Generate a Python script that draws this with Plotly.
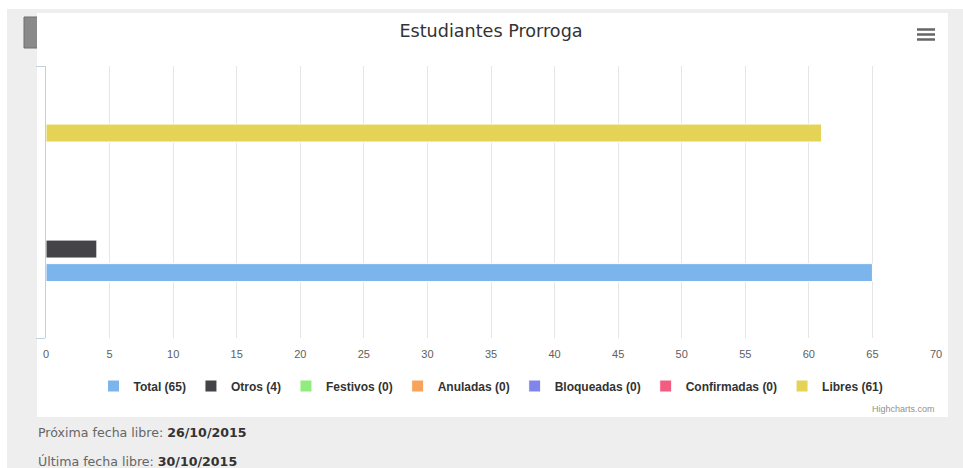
import plotly.graph_objects as go

# ---------------- data ----------------
categories = ["Ocupación", "Disponibles"]          # bottom group, top group
series_names = ["Total", "Otros", "Festivos", "Anuladas", "Bloqueadas", "Confirmadas", "Libres"]
series_values = [65, 4, 0, 0, 0, 0, 61]
series_category = [0, 0, 0, 0, 0, 0, 1]
x_ticks = [0, 5, 10, 15, 20, 25, 30, 35, 40, 45, 50, 55, 60, 65, 70]
title_text = "Estudiantes Prorroga"
proxima_label = "Próxima fecha libre:"
proxima_fecha = "26/10/2015"
ultima_label = "Última fecha libre:"
ultima_fecha = "30/10/2015"

# ---------------- style ----------------
W, H = 963, 468
L, R, T, B = 46, 936, 66, 338
colors = ["#7cb5ec", "#434348", "#90ed7d", "#f7a35c", "#8085e9", "#f15c80", "#e4d354"]
offsets = [-0.085, 0.088, 0.26, 0.26, 0.26, 0.26, -0.059]
bar_w = 0.132
FONT = "Liberation Sans, Arial, sans-serif"
FONT2 = "DejaVu Sans, Verdana, sans-serif"


def px(x):
    return (x - L) / (R - L)


def py(y):
    return (B - y) / (B - T)


fig = go.Figure()
for i, name in enumerate(series_names):
    fig.add_trace(go.Bar(
        x=[series_values[i]],
        y=[series_category[i]],
        orientation="h",
        name=f"{name} ({series_values[i]})",
        marker=dict(color=colors[i], line=dict(color="white", width=1)),
        width=bar_w,
        offset=offsets[i],
        hovertemplate=f"{name}: %{{x}}<extra></extra>",
    ))

shapes = [
    # page strips
    dict(type="rect", xref="paper", yref="paper", x0=px(0), x1=px(W), y0=py(0), y1=py(9),
         fillcolor="white", line=dict(width=0), layer="below"),
    dict(type="rect", xref="paper", yref="paper", x0=px(0), x1=px(7), y0=py(0), y1=py(H),
         fillcolor="white", line=dict(width=0), layer="below"),
    # grey button at left
    dict(type="rect", xref="paper", yref="paper", x0=px(24), x1=px(44), y0=py(17), y1=py(48),
         fillcolor="#8a8a8a", line=dict(color="#6e6e6e", width=1), layer="below"),
    # white card
    dict(type="rect", xref="paper", yref="paper", x0=px(37), x1=px(948), y0=py(13), y1=py(417),
         fillcolor="white", line=dict(width=0), layer="below"),
]
# hamburger menu icon
for yy in (29.5, 34.5, 39.5):
    shapes.append(dict(type="line", xref="paper", yref="paper", x0=px(917), x1=px(935),
                       y0=py(yy), y1=py(yy), line=dict(color="#666666", width=2.5)))

annotations = [
    dict(text="Highcharts.com", xref="paper", yref="paper", x=px(937), y=py(409),
         xanchor="right", yanchor="middle", showarrow=False,
         font=dict(family=FONT, size=9, color="#909090")),
    dict(text=f"{proxima_label} <b><span style='color:#333333'>{proxima_fecha}</span></b>",
         xref="paper", yref="paper", x=px(36), y=py(432), xanchor="left", yanchor="middle",
         showarrow=False, font=dict(family=FONT2, size=12.6, color="#666666")),
    dict(text=f"{ultima_label} <b><span style='color:#333333'>{ultima_fecha}</span></b>",
         xref="paper", yref="paper", x=px(36), y=py(461), xanchor="left", yanchor="middle",
         showarrow=False, font=dict(family=FONT2, size=12.6, color="#666666")),
]

fig.update_layout(
    width=W, height=H, autosize=False,
    margin=dict(l=L, r=W - R, t=T, b=H - B, pad=0),
    paper_bgcolor="#eeeeee",
    plot_bgcolor="rgba(0,0,0,0)",
    barmode="overlay",
    title=dict(text=title_text, x=0.5, xref="paper", xanchor="center",
               y=1 - 31 / H, yref="container", yanchor="middle",
               font=dict(family=FONT2, size=17.6, color="#333333")),
    font=dict(family=FONT),
    xaxis=dict(range=[0, 70], tickvals=x_ticks, showgrid=True, gridcolor="#e6e6e6", gridwidth=1,
               zeroline=False, showline=False, ticks="", ticklabelstandoff=8,
               tickfont=dict(family=FONT, size=11, color="#606060"), fixedrange=True),
    yaxis=dict(range=[-0.5, 1.5], tickvals=[-0.5, 1.5], showticklabels=False, showgrid=False,
               zeroline=False, showline=True, linecolor="#c0d0e0", linewidth=1,
               ticks="outside", ticklen=9, tickcolor="#c0d0e0", fixedrange=True),
    legend=dict(orientation="h", x=0.5, xanchor="center", y=py(386), yanchor="middle",
                font=dict(family=FONT, size=12, color="#333333", weight="bold"),
                bgcolor="rgba(0,0,0,0)", traceorder="normal", itemclick=False),
    shapes=shapes,
    annotations=annotations,
)

fig.write_html("out.html", config={"displayModeBar": False},
               post_script="document.body.style.margin='0';")
